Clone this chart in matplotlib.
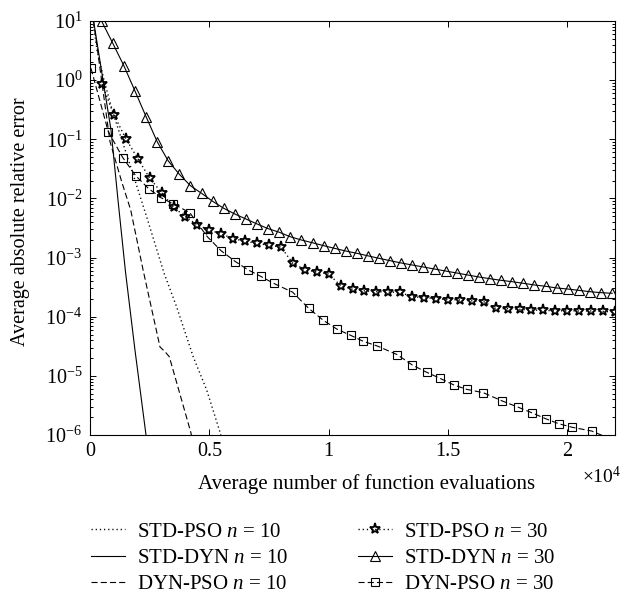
import numpy as np
import matplotlib
matplotlib.use("Agg")
import matplotlib.pyplot as plt
from matplotlib.ticker import FixedLocator, LogLocator, NullFormatter

plt.rcParams['font.family'] = ['Liberation Serif', 'DejaVu Serif']
plt.rcParams['mathtext.fontset'] = 'custom'
plt.rcParams['mathtext.rm'] = 'Liberation Serif'
plt.rcParams['mathtext.it'] = 'Liberation Serif:italic'
plt.rcParams['font.size'] = 15

# ---------------- data ----------------
# n = 10 curves (no markers): x = function evaluations, y = error
std_pso10_x = [126, 293, 587, 964, 1747, 2376, 3101, 3633, 4329, 4890, 5447, 5531]
std_pso10_y = [10.0, 3.24, 1.005, 0.278, 0.0303, 4.85e-3, 5.48e-4, 1.46e-4,
               2.08e-5, 5.77e-6, 1.12e-6, 8.2e-7]

std_dyn10_x = [120, 545, 880, 1173, 1488, 1886, 2347, 2430]
std_dyn10_y = [12.0, 1.0, 0.144, 9.4e-3, 5.7e-4, 2.7e-5, 1.0e-6, 5.6e-7]

dyn_pso10_x = [147, 838, 1328, 1706, 2234, 2933, 3143, 3323, 4232, 4316]
dyn_pso10_y = [10.0, 0.091, 0.0192, 6.37e-3, 5.93e-4, 3.08e-5, 2.56e-5,
               2.11e-5, 1.08e-6, 6.8e-7]

# n = 30 curves (with markers)
std_pso30_x = np.arange(500, 22001, 500)
std_pso30_y = [0.86, 0.258, 0.103, 0.0473, 0.0221, 0.0125, 7.11e-3, 4.91e-3,
               3.56e-3, 2.92e-3, 2.52e-3, 2.09e-3, 1.88e-3, 1.74e-3, 1.61e-3,
               1.51e-3, 8.0e-4, 6.28e-4, 5.70e-4, 5.27e-4, 3.37e-4, 2.92e-4,
               2.74e-4, 2.65e-4, 2.62e-4, 2.57e-4, 2.18e-4, 2.10e-4, 2.03e-4,
               1.95e-4, 1.92e-4, 1.86e-4, 1.79e-4, 1.38e-4, 1.37e-4, 1.33e-4,
               1.30e-4, 1.28e-4, 1.26e-4, 1.26e-4, 1.25e-4, 1.25e-4, 1.23e-4,
               1.20e-4]

std_dyn30_x = np.arange(490, 21900, 465)
std_dyn30_y = [9.9, 4.2, 1.75, 0.655, 0.241, 0.091, 0.043, 0.0256, 0.0164,
               0.0122, 8.94e-3, 6.81e-3, 5.45e-3, 4.49e-3, 3.70e-3, 3.08e-3,
               2.68e-3, 2.25e-3, 1.98e-3, 1.78e-3, 1.59e-3, 1.43e-3, 1.29e-3,
               1.18e-3, 1.07e-3, 9.7e-4, 8.85e-4, 8.09e-4, 7.48e-4, 6.92e-4,
               6.40e-4, 5.92e-4, 5.48e-4, 5.07e-4, 4.69e-4, 4.39e-4, 4.12e-4,
               3.91e-4, 3.67e-4, 3.44e-4, 3.27e-4, 3.06e-4, 2.94e-4, 2.79e-4,
               2.65e-4, 2.55e-4, 2.49e-4]

dyn_pso30_x = [42, 767, 1370, 1915, 2464, 2975, 3478, 4182, 4915, 5498, 6089,
               6621, 7166, 7690, 8494, 9157, 9777, 10339, 10924, 11452, 12039,
               12877, 13506, 14109, 14667, 15253, 15785, 16481, 17277, 17922,
               18509, 19096, 19640, 20210, 21023, 22419]
dyn_pso30_log = [0.200, -0.872, -1.308, -1.616, -1.837, -1.988, -2.089, -2.241,
                 -2.647, -2.886, -3.067, -3.207, -3.320, -3.435, -3.586, -3.856,
                 -4.061, -4.208, -4.315, -4.416, -4.495, -4.642, -4.817, -4.940,
                 -5.042, -5.155, -5.228, -5.285, -5.425, -5.527, -5.623, -5.725,
                 -5.809, -5.870, -5.933, -6.169]
dyn_pso30_y = [10 ** v for v in dyn_pso30_log]

x_ticks = [0, 5000, 10000, 15000, 20000]
x_tick_labels = ['0', '0.5', '1', '1.5', '2']
y_ticks = [1e-6, 1e-5, 1e-4, 1e-3, 1e-2, 1e-1, 1e0, 1e1]
y_tick_labels = [r'$10^{-6}$', r'$10^{-5}$', r'$10^{-4}$', r'$10^{-3}$',
                 r'$10^{-2}$', r'$10^{-1}$', r'$10^{0}$', r'$10^{1}$']

labels = [r'STD-PSO $n$ = 10', r'STD-DYN $n$ = 10', r'DYN-PSO $n$ = 10',
          r'STD-PSO $n$ = 30', r'STD-DYN $n$ = 30', r'DYN-PSO $n$ = 30']

# ---------------- figure ----------------
W, H = 622, 595
fig = plt.figure(figsize=(W / 100, H / 100), dpi=100)
ax = fig.add_axes([90 / W, 1 - 435 / H, 525 / W, 414 / H])

dot = (0, (0.9, 2.1))
dash = (0, (5.5, 2.8))
lw = 0.8

h1, = ax.plot(std_pso10_x, std_pso10_y, color='black', lw=1.0, ls=dot)
h2, = ax.plot(std_dyn10_x, std_dyn10_y, color='black', lw=lw, ls='-')
h3, = ax.plot(dyn_pso10_x, dyn_pso10_y, color='black', lw=lw, ls=dash)
h4, = ax.plot(std_pso30_x, std_pso30_y, color='black', lw=1.0, ls=dot,
              marker='*', ms=8, mfc='none', mec='black', mew=1.3)
h5, = ax.plot(std_dyn30_x, std_dyn30_y, color='black', lw=lw, ls='-',
              marker='^', ms=7, mfc='none', mec='black', mew=0.8)
h6, = ax.plot(dyn_pso30_x, dyn_pso30_y, color='black', lw=lw, ls=dash,
              marker='s', ms=5.5, mfc='none', mec='black', mew=0.8)

ax.set_yscale('log')
ax.set_xlim(0, 22000)
ax.set_ylim(1e-6, 10)
ax.xaxis.set_major_locator(FixedLocator(x_ticks))
ax.set_xticklabels(x_tick_labels)
ax.yaxis.set_major_locator(FixedLocator(y_ticks))
ax.set_yticklabels(y_tick_labels)
ax.yaxis.set_minor_locator(LogLocator(base=10, subs=np.arange(2, 10)))
ax.yaxis.set_minor_formatter(NullFormatter())

ax.tick_params(which='both', direction='in', top=True, right=True,
               labelsize=14.5, width=0.7)
ax.tick_params(which='major', length=4.5)
ax.tick_params(axis='x', which='major', pad=5)
ax.tick_params(axis='y', which='major', pad=5.5)
ax.tick_params(which='minor', length=2.5)
for s in ax.spines.values():
    s.set_linewidth(0.8)

ax.set_xlabel('Average number of function evaluations', fontsize=15)
ax.xaxis.set_label_coords((367 - 90) / 525, (435 - 474) / 414)
ax.set_ylabel('Average absolute relative error', fontsize=14.5)
ax.yaxis.set_label_coords((30 - 90) / 525, (435 - 222) / 414)
fig.text(621 / W, 1 - 477 / H, r'$\times10^{4}$', fontsize=14,
         ha='right', va='center')

fig.legend([h1, h2, h3, h4, h5, h6], labels, ncol=2, frameon=False,
           loc='upper left', bbox_to_anchor=(91 / W, 1 - 522 / H),
           borderpad=0, borderaxespad=0,
           fontsize=15, handlelength=1.65, handletextpad=0.58,
           columnspacing=3.3, labelspacing=0.32, numpoints=1)

fig.savefig('out.png', dpi=100)
